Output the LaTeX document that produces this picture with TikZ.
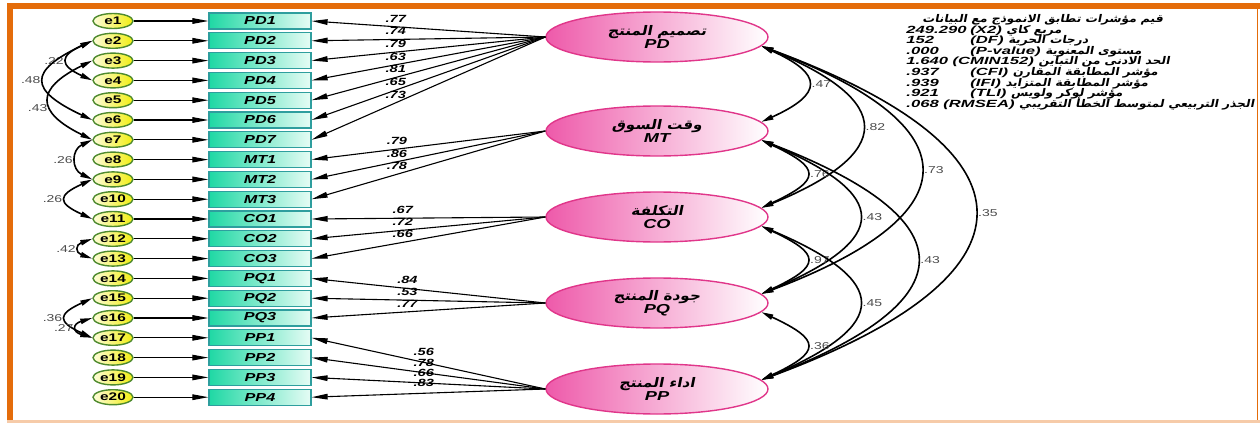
\documentclass[tikz,border=0pt]{standalone}
\usepackage{fontspec}
\setmainfont{Liberation Sans}
\newfontfamily\amosfont[FakeStretch=1.4]{Liberation Sans}
\newfontfamily\statfont[FakeStretch=1.6]{Liberation Sans}
\newfontfamily\arabicfont[Script=Arabic,FakeSlant=0.2,FakeStretch=1.15]{DejaVu Sans}
\TeXXeTstate=1
\usetikzlibrary{positioning,arrows.meta,shapes.geometric}
\definecolor{frameorange}{HTML}{E46C0A}
\definecolor{errborder}{HTML}{4E8A2E}
\definecolor{erryellow}{HTML}{F2EE10}
\definecolor{obsgreen}{HTML}{1FD8A4}
\definecolor{obspale}{HTML}{E6FCF5}
\definecolor{obsborder}{HTML}{2E9E9E}
\definecolor{latpink}{HTML}{EE5AAA}
\definecolor{latborder}{HTML}{E0368A}
\newcommand{\arlabel}[1]{{\arabicfont\bfseries\upshape\beginR#1\endR}}
\newcommand{\arstat}[1]{{\fontsize{5.3}{5.3}\selectfont\arlabel{#1}}}
\newcommand{\abbrlabel}[1]{{\amosfont\bfseries\itshape\fontsize{6.5}{6.5}\selectfont#1}}
\tikzset{
  errnode/.style={ellipse,draw=errborder,line width=0.7pt,left color=erryellow!15,right color=erryellow,
                  minimum width=20pt,minimum height=7.5pt,inner sep=0pt,
                  font=\amosfont\bfseries\fontsize{5.5}{6}\selectfont},
  obsbox/.style={draw=obsborder,line width=0.6pt,left color=obsgreen,right color=obspale,
                 minimum width=51pt,minimum height=8pt,inner sep=0pt,
                 font=\amosfont\bfseries\itshape\fontsize{5.8}{6}\selectfont},
  latent/.style={ellipse,draw=latborder,line width=0.7pt,left color=latpink,right color=white,
                 minimum width=111pt,minimum height=25pt,inner sep=0pt,align=center,
                 font=\fontsize{6.6}{6.5}\selectfont},
  amarr/.style={-{Triangle[length=8pt,width=2.8pt]},line width=0.55pt},
  covarr/.style={{Triangle[length=6pt,width=2.6pt]}-{Triangle[length=6pt,width=2.6pt]},line width=0.8pt},
  ldlbl/.style={font=\amosfont\bfseries\itshape\fontsize{5.2}{5}\selectfont,inner sep=0.5pt,above=1.5pt},
  cvlbl/.style={font=\amosfont\fontsize{5}{5}\selectfont,text=black!70,inner sep=0.5pt},
  stats/.style={inner sep=0pt,font=\statfont\bfseries\itshape\fontsize{5.2}{5.3}\selectfont}
}
\begin{document}
\begin{tikzpicture}[x=0.5pt,y=-0.5pt,node distance=9.9pt and 73.5pt,on grid]
\useasboundingbox (0,0) rectangle (1260,423);
\fill[frameorange] (7,3) rectangle (1260,8.5);
\fill[frameorange] (7,3) rectangle (12.5,420);
\draw[frameorange,line width=0.8pt] (1257.5,8) -- (1257.5,420);
\fill[frameorange!35] (7,420) rectangle (1260,423);

\node[errnode] (e1) at (113,21) {e1};
\node[errnode,below=of e1] (e2) {e2};
\node[errnode,below=of e2] (e3) {e3};
\node[errnode,below=of e3] (e4) {e4};
\node[errnode,below=of e4] (e5) {e5};
\node[errnode,below=of e5] (e6) {e6};
\node[errnode,below=of e6] (e7) {e7};
\node[errnode,below=of e7] (e8) {e8};
\node[errnode,below=of e8] (e9) {e9};
\node[errnode,below=of e9] (e10) {e10};
\node[errnode,below=of e10] (e11) {e11};
\node[errnode,below=of e11] (e12) {e12};
\node[errnode,below=of e12] (e13) {e13};
\node[errnode,below=of e13] (e14) {e14};
\node[errnode,below=of e14] (e15) {e15};
\node[errnode,below=of e15] (e16) {e16};
\node[errnode,below=of e16] (e17) {e17};
\node[errnode,below=of e17] (e18) {e18};
\node[errnode,below=of e18] (e19) {e19};
\node[errnode,below=of e19] (e20) {e20};

\node[obsbox,right=of e1] (PD1) {PD1};
\node[obsbox,right=of e2] (PD2) {PD2};
\node[obsbox,right=of e3] (PD3) {PD3};
\node[obsbox,right=of e4] (PD4) {PD4};
\node[obsbox,right=of e5] (PD5) {PD5};
\node[obsbox,right=of e6] (PD6) {PD6};
\node[obsbox,right=of e7] (PD7) {PD7};
\node[obsbox,right=of e8] (MT1) {MT1};
\node[obsbox,right=of e9] (MT2) {MT2};
\node[obsbox,right=of e10] (MT3) {MT3};
\node[obsbox,right=of e11] (CO1) {CO1};
\node[obsbox,right=of e12] (CO2) {CO2};
\node[obsbox,right=of e13] (CO3) {CO3};
\node[obsbox,right=of e14] (PQ1) {PQ1};
\node[obsbox,right=of e15] (PQ2) {PQ2};
\node[obsbox,right=of e16] (PQ3) {PQ3};
\node[obsbox,right=of e17] (PP1) {PP1};
\node[obsbox,right=of e18] (PP2) {PP2};
\node[obsbox,right=of e19] (PP3) {PP3};
\node[obsbox,right=of e20] (PP4) {PP4};

\node[latent] (PD) at (657,37) {\arlabel{تصميم المنتج}\\\abbrlabel{PD}};
\node[latent,below=47pt of PD] (MT) {\arlabel{وقت السوق}\\\abbrlabel{MT}};
\node[latent,below=43pt of MT] (CO) {\arlabel{التكلفة}\\\abbrlabel{CO}};
\node[latent,below=43pt of CO] (PQ) {\arlabel{جودة المنتج}\\\abbrlabel{PQ}};
\node[latent,below=43pt of PQ] (PP) {\arlabel{اداء المنتج}\\\abbrlabel{PP}};

\draw[amarr] (e1) -- (PD1);
\draw[amarr] (e2) -- (PD2);
\draw[amarr] (e3) -- (PD3);
\draw[amarr] (e4) -- (PD4);
\draw[amarr] (e5) -- (PD5);
\draw[amarr] (e6) -- (PD6);
\draw[amarr] (e7) -- (PD7);
\draw[amarr] (e8) -- (MT1);
\draw[amarr] (e9) -- (MT2);
\draw[amarr] (e10) -- (MT3);
\draw[amarr] (e11) -- (CO1);
\draw[amarr] (e12) -- (CO2);
\draw[amarr] (e13) -- (CO3);
\draw[amarr] (e14) -- (PQ1);
\draw[amarr] (e15) -- (PQ2);
\draw[amarr] (e16) -- (PQ3);
\draw[amarr] (e17) -- (PP1);
\draw[amarr] (e18) -- (PP2);
\draw[amarr] (e19) -- (PP3);
\draw[amarr] (e20) -- (PP4);

\draw[amarr] (PD.west) -- node[ldlbl,pos=0.64] {.77} (PD1.east);
\draw[amarr] (PD.west) -- node[ldlbl,pos=0.64] {.74} (PD2.east);
\draw[amarr] (PD.west) -- node[ldlbl,pos=0.64] {.79} (PD3.east);
\draw[amarr] (PD.west) -- node[ldlbl,pos=0.64] {.63} (PD4.east);
\draw[amarr] (PD.west) -- node[ldlbl,pos=0.64] {.81} (PD5.east);
\draw[amarr] (PD.west) -- node[ldlbl,pos=0.64] {.65} (PD6.east);
\draw[amarr] (PD.west) -- node[ldlbl,pos=0.64] {.73} (PD7.east);
\draw[amarr] (MT.west) -- node[ldlbl,pos=0.635] {.79} (MT1.east);
\draw[amarr] (MT.west) -- node[ldlbl,pos=0.635] {.86} (MT2.east);
\draw[amarr] (MT.west) -- node[ldlbl,pos=0.635] {.78} (MT3.east);
\draw[amarr] (CO.west) -- node[ldlbl,pos=0.61] {.67} (CO1.east);
\draw[amarr] (CO.west) -- node[ldlbl,pos=0.61] {.72} (CO2.east);
\draw[amarr] (CO.west) -- node[ldlbl,pos=0.61] {.66} (CO3.east);
\draw[amarr] (PQ.west) -- node[ldlbl,pos=0.59] {.84} (PQ1.east);
\draw[amarr] (PQ.west) -- node[ldlbl,pos=0.59] {.53} (PQ2.east);
\draw[amarr] (PQ.west) -- node[ldlbl,pos=0.59] {.77} (PQ3.east);
\draw[amarr] (PP.west) -- node[ldlbl,pos=0.52,above=2.5pt] {.56} (PP1.east);
\draw[amarr] (PP.west) -- node[ldlbl,pos=0.52,above=2.5pt] {.78} (PP2.east);
\draw[amarr] (PP.west) -- node[ldlbl,pos=0.52,above=2.5pt] {.66} (PP3.east);
\draw[amarr] (PP.west) -- node[ldlbl,pos=0.52,above=2.5pt] {.83} (PP4.east);

\draw[covarr] (e2.west) .. controls +(-33,15) and +(-33,-15) .. node[cvlbl,left=1pt] {.22} (e4.west);
\draw[covarr] (e2.west) .. controls +(-64,30) and +(-64,-30) .. node[cvlbl,left=1pt] {.48} (e6.west);
\draw[covarr] (e3.west) .. controls +(-57,28) and +(-57,-28) .. node[cvlbl,left=1pt,pos=0.6] {.43} (e7.west);
\draw[covarr] (e7.west) .. controls +(-21,10) and +(-21,-10) .. node[cvlbl,left=1pt] {.26} (e9.west);
\draw[covarr] (e9.west) .. controls +(-35,16) and +(-35,-16) .. node[cvlbl,left=1pt] {.26} (e11.west);
\draw[covarr] (e12.west) .. controls +(-17,6) and +(-17,-6) .. node[cvlbl,left=1pt] {.42} (e13.west);
\draw[covarr] (e15.west) .. controls +(-35,16) and +(-35,-16) .. node[cvlbl,left=1pt] {.36} (e17.west);
\draw[covarr] (e16.west) .. controls +(-20,6) and +(-20,-6) .. node[cvlbl,left=1pt] {.27} (e17.west);

\draw[covarr] (PD.-5) .. controls +(62,28) and +(62,-28) .. node[cvlbl,right=1pt] {.47} (MT.5);
\draw[covarr] (PD.-5) .. controls +(134,55) and +(134,-55) .. node[cvlbl,right=1pt] {.82} (CO.5);
\draw[covarr] (PD.-5) .. controls +(212,80) and +(212,-80) .. node[cvlbl,right=1pt] {.73} (PQ.5);
\draw[covarr] (PD.-5) .. controls +(284,105) and +(284,-105) .. node[cvlbl,right=1pt] {.35} (PP.5);
\draw[covarr] (MT.-5) .. controls +(60,28) and +(60,-28) .. node[cvlbl,right=1pt] {.76} (CO.5);
\draw[covarr] (MT.-5) .. controls +(130,55) and +(130,-55) .. node[cvlbl,right=1pt] {.43} (PQ.5);
\draw[covarr] (MT.-5) .. controls +(207,80) and +(207,-80) .. node[cvlbl,right=1pt] {.43} (PP.5);
\draw[covarr] (CO.-5) .. controls +(60,28) and +(60,-28) .. node[cvlbl,right=1pt] {.97} (PQ.5);
\draw[covarr] (CO.-5) .. controls +(130,55) and +(130,-55) .. node[cvlbl,right=1pt] {.45} (PP.5);
\draw[covarr] (PQ.-5) .. controls +(60,28) and +(60,-28) .. node[cvlbl,right=1pt] {.36} (PP.5);

\node[stats,anchor=north west] (fitidx) at (906,14) {\vbox{\baselineskip=5.3pt\lineskiplimit=-10pt
  \hbox{\hskip8pt\arstat{قيم مؤشرات تطابق الانموذج مع البيانات}}
  \hbox{\makebox[32pt][l]{249.290}(X2)\ \arstat{مربع كاي}}
  \hbox{\makebox[32pt][l]{152}(DF)\ \arstat{درجات الحرية}}
  \hbox{\makebox[32pt][l]{.000}(P-value)\ \arstat{مستوى المعنوية}}
  \hbox{1.640 (CMIN152)\ \arstat{الحد الادنى من التباين}}
  \hbox{\makebox[32pt][l]{.937}(CFI)\ \arstat{مؤشر المطابقة المقارن}}
  \hbox{\makebox[32pt][l]{.939}(IFI)\ \arstat{مؤشر المطابقة المتزايد}}
  \hbox{\makebox[32pt][l]{.921}(TLI)\ \arstat{مؤشر لوكر ولويس}}
  \hbox{.068 (RMSEA)\ \arstat{الجذر التربيعي لمتوسط الخطأ التقريبي}}}};
\end{tikzpicture}
\end{document}
